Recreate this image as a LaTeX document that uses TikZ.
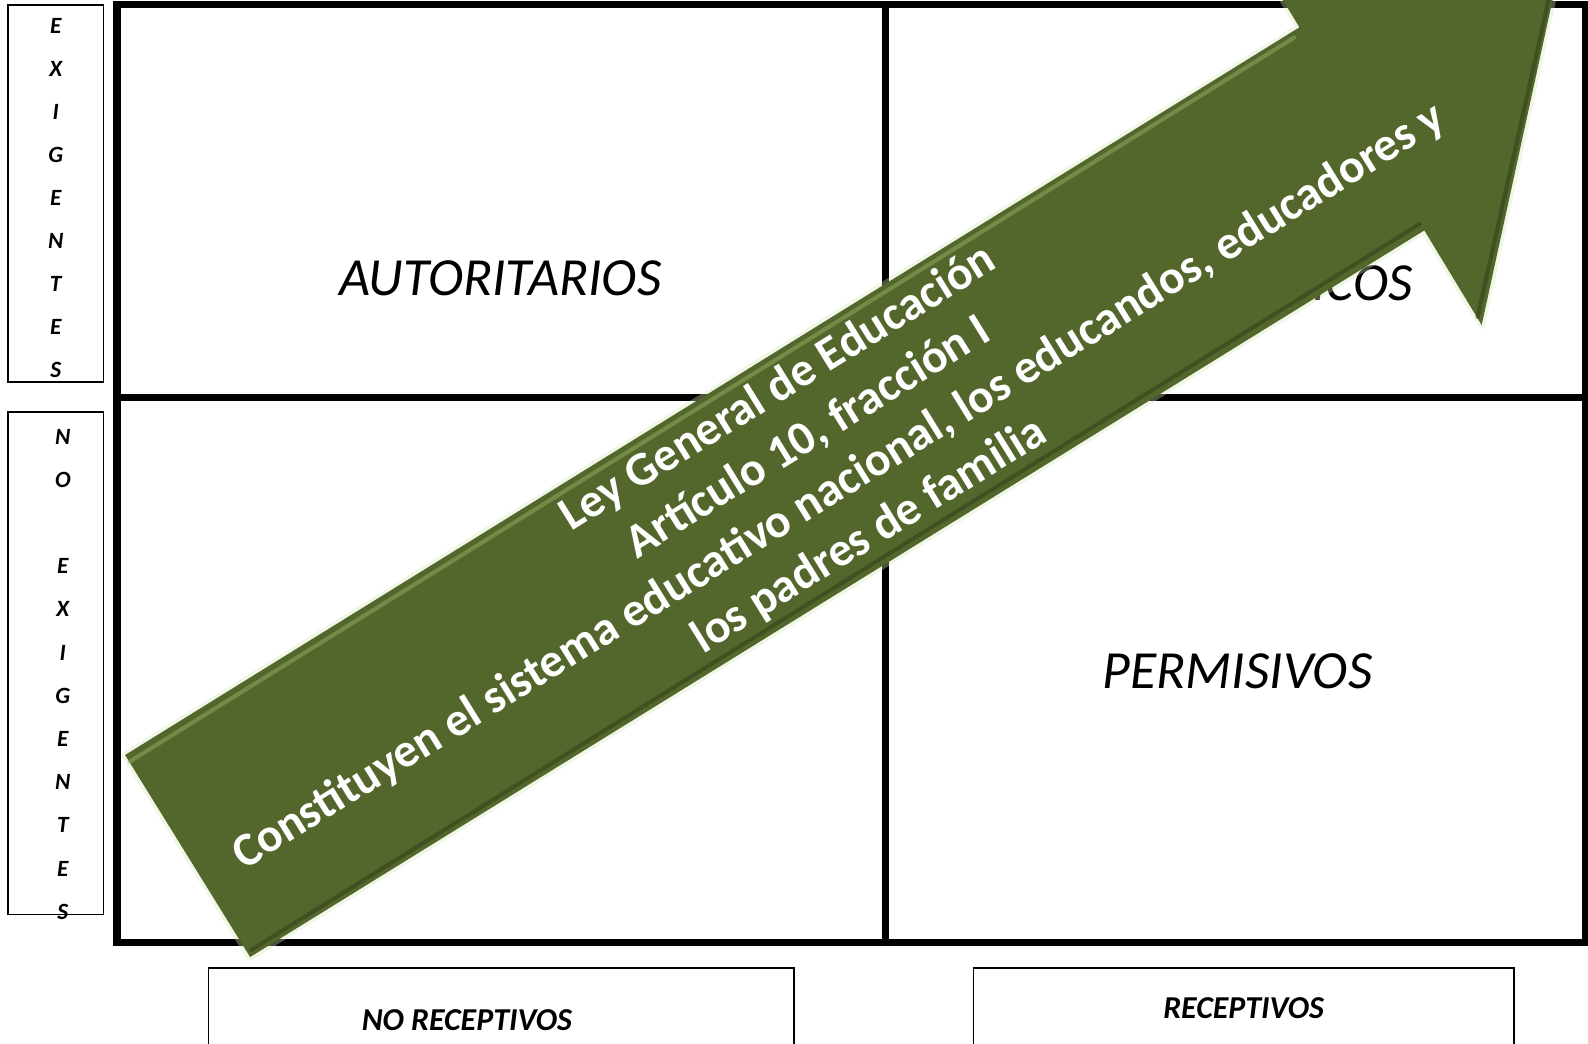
\documentclass[tikz,border=0pt]{standalone}
\usepackage{fontspec}
\setmainfont{Carlito}
\definecolor{arrowgreen}{RGB}{83,103,44}
\definecolor{arrowlight}{RGB}{150,175,100}
\definecolor{arrowdark}{RGB}{52,66,26}
\definecolor{arrowglow}{RGB}{215,232,185}

\begin{document}
\begin{tikzpicture}[x=1pt,y=-1pt]
\clip (0,0) rectangle (1568,1030);
%draw grid:
\draw [line width=7pt] (115.5,4) rectangle (1566,930.5);
\draw [line width=7pt] (874,4) -- (874,930.5);
\draw [line width=7pt] (115.5,392.5) -- (1566,392.5);
%draw side and bottom boxes:
\draw [line width=1.5pt] (8,5) rectangle (102,377);
\draw [line width=1.5pt] (8,407) rectangle (102,903);
\draw [line width=1.5pt] (206,956) rectangle (784,1060);
\draw [line width=1.5pt] (961,956) rectangle (1495,1060);
%draw labels:
\node (exigentes) at (55,17.5) [anchor=north, inner sep=0, align=center,
  font=\bfseries\itshape\fontsize{23}{42.5}\selectfont]
  {E\\X\\I\\G\\E\\N\\T\\E\\S};
\node (noexigentes) at (62,423.5) [anchor=north, inner sep=0, align=center,
  font=\bfseries\itshape\fontsize{23}{42.65}\selectfont]
  {N\\O\\\mbox{}\\E\\X\\I\\G\\E\\N\\T\\E\\S};
\node (autoritarios) at (494,275) [font=\itshape\fontsize{53}{62}\selectfont] {AUTORITARIOS};
\node (democraticos) at (1222,275) [font=\itshape\fontsize{53}{62}\selectfont] {DEMOCRÁTICOS};
\node (permisivos) at (1222,663) [font=\itshape\fontsize{53}{62}\selectfont] {PERMISIVOS};
\node (noreceptivos) at (461,1007) [font=\bfseries\itshape\fontsize{31.5}{36}\selectfont] {NO RECEPTIVOS};
\node (receptivos) at (1228,995) [font=\bfseries\itshape\fontsize{31.5}{36}\selectfont] {RECEPTIVOS};
%draw arrow:
\draw [arrowglow, line width=7pt, opacity=0.35, line join=round]
  (123.5,745.5) -- (1283,27) -- (1227,-66) -- (1546.5,-62) -- (1463,321)
  -- (1406.4,227.5) -- (247,945) -- cycle;
\fill [arrowgreen] (123.5,745.5) -- (1283,27) -- (1227,-66) -- (1546.5,-62)
  -- (1463,321) -- (1406.4,227.5) -- (247,945) -- cycle;
\draw [arrowlight, line width=4pt, opacity=0.5, line cap=round]
  (128,752) -- (1278,37);
\draw [arrowdark, line width=4pt, opacity=0.6, line cap=round]
  (248,938) -- (1402,221) (1459,313) -- (1538,-40);
\node (ley) at (813.4,456.5) [rotate=31.75, text=white, align=center,
  font=\bfseries\fontsize{47}{57}\selectfont]
  {Ley General de Educación\\Artículo 10, fracción I\\Constituyen el sistema educativo nacional, los educandos, educadores y\\los padres de familia};
\end{tikzpicture}
\end{document}
